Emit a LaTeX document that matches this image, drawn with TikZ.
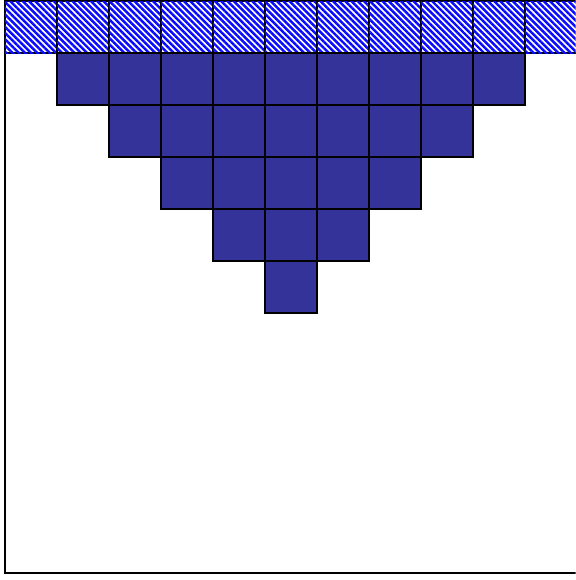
\documentclass[tikz,border=0pt]{standalone}
\usepackage{xcolor}
\usepackage{tikz}
\usetikzlibrary{patterns.meta}
\definecolor{gdFill}{HTML}{333399}
\definecolor{gdHatch}{HTML}{0A0AFF}
\tikzset{
  gd grid/.style={line cap=rect, line join=miter, line width=1.1pt},
  gd cell/.style={draw=black, fill=gdFill},
  gd ghost/.style={draw=black, fill=white,
    postaction={pattern={Lines[angle=-45,distance=2.4pt,line width=1.35pt]},
      pattern color=gdHatch}},
  gd frame/.style={draw=black}
}
\begin{document}
\begin{tikzpicture}[gd grid]
\useasboundingbox (-0.096,-0.135) rectangle (10.975,11.02);
\clip (-0.096,-0.135) rectangle (10.975,11.02);
% domain
\draw[gd frame] (0,0) rectangle (11,10);
% ghost row on top
\foreach \i in {0,...,10}
  \draw[gd ghost] (\i,10) rectangle ++(1,1);
% filled cells, one row shorter on each side going down
\foreach \r in {0,...,4}{
  \pgfmathtruncatemacro{\first}{\r+1}
  \pgfmathtruncatemacro{\last}{9-\r}
  \foreach \i in {\first,...,\last}
    \draw[gd cell] (\i,9-\r) rectangle ++(1,1);
}
\end{tikzpicture}
\end{document}
